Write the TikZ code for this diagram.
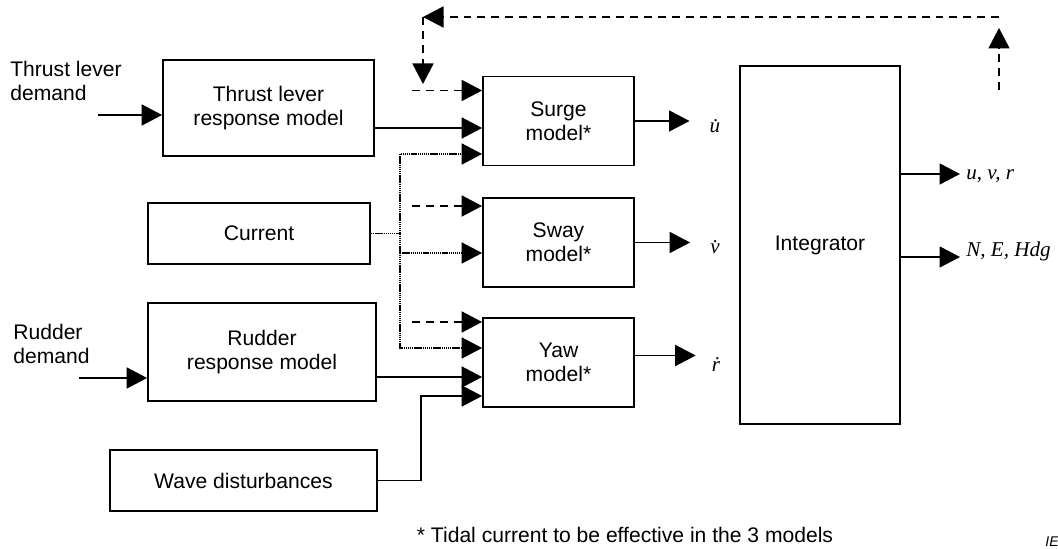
\documentclass[tikz,border=0pt]{standalone}
\usepackage{fontspec}
\setmainfont{Liberation Sans}
\newfontfamily\tnr{Liberation Serif}
\usetikzlibrary{arrows.meta}

\begin{document}
\begin{tikzpicture}[font=\fontsize{12}{13.6}\selectfont,
	blk/.style={draw, line width=1pt, align=center, inner sep=0pt},
	mdl/.style={blk, minimum width=3.02cm, minimum height=1.78cm},
	sig/.style={line width=1pt, -{Triangle[length=4.1mm, width=4.2mm]}},
	dsig/.style={sig, dash pattern=on 4.5pt off 3.4pt},
	tline/.style={line width=1pt, dash pattern=on 0.8pt off 0.4pt},
	tsig/.style={sig, dash pattern=on 0.8pt off 0.4pt}]
	%\draw[help lines, thick] (0,0) grid (21,11);
	\useasboundingbox (0,0) rectangle (21.16,10.98);
	\node[blk, minimum width=4.22cm, minimum height=1.92cm] (thrust) at (5.37,8.82) {Thrust lever\\response model};
	\node[blk, minimum width=4.44cm, minimum height=1.22cm] (current) at (5.18,6.31) {Current};
	\node[blk, minimum width=4.56cm, minimum height=1.96cm] (rudder) at (5.24,3.94) {Rudder\\response model};
	\node[blk, minimum width=5.34cm, minimum height=1.22cm] (wave) at (4.87,1.37) {Wave disturbances};
	\node[mdl] (surge) at (11.17,8.56) {Surge\\model*};
	\node[mdl] (sway) at (11.17,6.13) {Sway\\model*};
	\node[mdl] (yaw) at (11.17,3.73) {Yaw\\model*};
	\node[blk, minimum width=3.2cm, minimum height=7.16cm] (integ) at (16.4,6.08) {Integrator};
	\node[anchor=west, align=left, inner sep=0pt] (tdem) at (0.2,9.36) {Thrust lever\\demand};
	\node[anchor=west, align=left, inner sep=0pt] (rdem) at (0.26,4.1) {Rudder\\demand};
	\node (ud) at (14.3,8.46) {\tnr\itshape \.u};
	\node (vd) at (14.3,6.04) {\tnr\itshape \.v};
	\node (rd) at (14.32,3.68) {\tnr\itshape \.r};
	\node[anchor=base west, inner sep=0pt] (uvr) at (19.32,7.38) {\tnr\itshape u, v, r};
	\node[anchor=base west, inner sep=0pt] (neh) at (19.32,5.84) {\tnr\itshape N, E, Hdg};
	\node (note) at (12.5,0.28) {* Tidal current to be effective in the 3 models};
	\node[anchor=base west, inner sep=0pt, font=\fontsize{8}{9}\selectfont\itshape] (iec) at (20.9,0.04) {IE};
	\coordinate (tin) at (1.96,8.68);
	\coordinate (rin) at (1.58,3.42);
	\coordinate (dsu) at (8.24,9.17);
	\coordinate (dsw) at (8.24,6.86);
	\coordinate (dyw) at (8.24,4.54);
	\coordinate (ctop) at (8.0,7.9);
	\coordinate (cmid) at (8.0,5.92);
	\coordinate (cbot) at (8.0,4.02);
	\coordinate (wv) at (8.42,3.06);
	\coordinate (o1) at (19.2,7.5);
	\coordinate (o2) at (19.2,5.84);
	\coordinate (fbin) at (19.98,9.18);
	\coordinate (fbup) at (19.98,10.42);
	\coordinate (fbr) at (19.98,10.64);
	\coordinate (fbl) at (8.46,10.64);
	\coordinate (fbdn) at (8.46,9.3);
	\draw[sig] (tin) -- (tin -| thrust.west);
	\draw[sig] (rin) -- (rin -| rudder.west);
	\draw[sig] (thrust.east |- 0,8.42) -- (surge.west |- 0,8.42);
	\draw[sig] (rudder.east |- 0,3.44) -- (yaw.west |- 0,3.44);
	\draw[sig] (wave.east) -| (wv) -- (wv -| yaw.west);
	\draw[tline] (current.east) -- (current.east -| ctop);
	\draw[tsig] (current.east -| ctop) |- (ctop -| surge.west);
	\draw[tsig] (cmid) -- (cmid -| sway.west);
	\draw[tsig] (current.east -| ctop) |- (cbot -| yaw.west);
	\draw[dsig] (dsu) -- (dsu -| surge.west);
	\draw[dsig] (dsw) -- (dsw -| sway.west);
	\draw[dsig] (dyw) -- (dyw -| yaw.west);
	\draw[sig, shorten >=0.28cm] (surge.east) -- (surge.east -| ud.west);
	\draw[sig, shorten >=0.28cm] (sway.east) -- (sway.east -| vd.west);
	\draw[sig, shorten >=0.2cm] ([yshift=0.14cm]yaw.east) -- ([yshift=0.14cm]yaw.east -| rd.west);
	\draw[sig] (integ.east |- o1) -- (o1);
	\draw[sig] (integ.east |- o2) -- (o2);
	\draw[dsig] (fbin) -- (fbup);
	\draw[dsig] (fbr) -- (fbl);
	\draw[dsig] (fbl) -- (fbdn);
\end{tikzpicture}
\end{document}
